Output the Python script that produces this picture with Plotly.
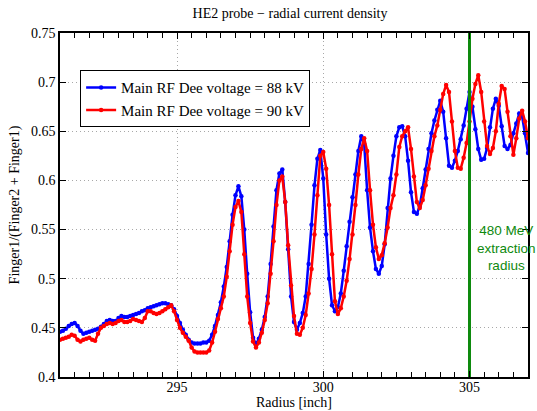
import plotly.graph_objects as go

radius = [round(291.0 + 0.1 * i, 1) for i in range(161)]

voltage_88kv = [
    0.446, 0.447, 0.449, 0.452, 0.454, 0.455, 0.452, 0.447, 0.444, 0.445,
    0.446, 0.447, 0.448, 0.449, 0.451, 0.454, 0.457, 0.458, 0.457, 0.457,
    0.460, 0.462, 0.461, 0.461, 0.462, 0.463, 0.464, 0.465, 0.467, 0.468,
    0.470, 0.471, 0.472, 0.473, 0.474, 0.475, 0.475, 0.474, 0.473, 0.469,
    0.462, 0.455, 0.448, 0.443, 0.438, 0.435, 0.434, 0.434, 0.434, 0.435,
    0.435, 0.437, 0.443, 0.452, 0.463, 0.476, 0.492, 0.512, 0.538, 0.565,
    0.585, 0.594, 0.584, 0.550, 0.505, 0.466, 0.440, 0.433, 0.439, 0.448,
    0.461, 0.482, 0.515, 0.553, 0.590, 0.607, 0.611, 0.578, 0.530, 0.482,
    0.456, 0.448, 0.455, 0.465, 0.482, 0.515, 0.555, 0.595, 0.622, 0.631,
    0.602, 0.545, 0.500, 0.473, 0.467, 0.471, 0.485, 0.508, 0.533, 0.558,
    0.583, 0.606, 0.630, 0.645, 0.637, 0.590, 0.552, 0.528, 0.510, 0.505,
    0.513, 0.535, 0.572, 0.602, 0.625, 0.645, 0.654, 0.655, 0.645, 0.620,
    0.588, 0.568, 0.566, 0.574, 0.592, 0.611, 0.632, 0.648, 0.661, 0.672,
    0.681, 0.670, 0.643, 0.615, 0.613, 0.620, 0.630, 0.642, 0.656, 0.673,
    0.690, 0.675, 0.652, 0.632, 0.621, 0.622, 0.633, 0.654, 0.673, 0.683,
    0.676, 0.655, 0.635, 0.632, 0.636, 0.648, 0.658, 0.668, 0.665, 0.648,
    0.628,
]

voltage_90kv = [
    0.438, 0.439, 0.440, 0.441, 0.443, 0.442, 0.438, 0.436, 0.438, 0.439,
    0.440, 0.438, 0.437, 0.444, 0.450, 0.452, 0.454, 0.455, 0.454, 0.455,
    0.457, 0.458, 0.456, 0.456, 0.457, 0.459, 0.458, 0.457, 0.456, 0.460,
    0.467, 0.467, 0.465, 0.464, 0.465, 0.467, 0.469, 0.471, 0.473, 0.467,
    0.458, 0.450, 0.445, 0.441, 0.437, 0.430, 0.426, 0.425, 0.425, 0.425,
    0.425, 0.427, 0.435, 0.446, 0.459, 0.470, 0.482, 0.502, 0.528, 0.555,
    0.573, 0.579, 0.568, 0.525, 0.482, 0.455, 0.436, 0.430, 0.435, 0.445,
    0.458, 0.475, 0.505, 0.538, 0.575, 0.600, 0.604, 0.578, 0.534, 0.493,
    0.462, 0.444, 0.443, 0.450, 0.463, 0.485, 0.510, 0.545, 0.585, 0.625,
    0.629, 0.612, 0.575, 0.525, 0.477, 0.464, 0.470, 0.482, 0.498, 0.520,
    0.545, 0.575, 0.606, 0.632, 0.643, 0.630, 0.590, 0.555, 0.532, 0.520,
    0.524, 0.536, 0.552, 0.572, 0.585, 0.606, 0.634, 0.645, 0.650, 0.654,
    0.632, 0.604, 0.578, 0.572, 0.580, 0.595, 0.612, 0.630, 0.645, 0.656,
    0.672, 0.688, 0.697, 0.690, 0.660, 0.630, 0.613, 0.612, 0.623, 0.638,
    0.660, 0.683, 0.698, 0.707, 0.690, 0.660, 0.635, 0.627, 0.633, 0.650,
    0.678, 0.696, 0.693, 0.670, 0.645, 0.626, 0.643, 0.663, 0.671, 0.660,
    0.643,
]

series_names = ["Main RF Dee voltage = 88 kV", "Main RF Dee voltage = 90 kV"]
series_colors = ["#0000ff", "#ff0000"]
extraction_radius = 305
y_limits = [0.4, 0.75]
x_limits = [291, 307]
x_tick_vals = [295, 300, 305]
y_tick_vals = [0.4, 0.45, 0.5, 0.55, 0.6, 0.65, 0.7, 0.75]
y_tick_text = ["0.4", "0.45", "0.5", "0.55", "0.6", "0.65", "0.7", "0.75"]

serif = "Liberation Serif, Times New Roman, serif"
sans = "Liberation Sans, Arial, sans-serif"

fig = go.Figure()
for vals, name, col in zip([voltage_88kv, voltage_90kv], series_names, series_colors):
    fig.add_trace(go.Scatter(
        x=radius, y=vals, mode="lines+markers", name=name,
        line=dict(color=col, width=2.5),
        marker=dict(color=col, size=4.5, symbol="circle"),
    ))

fig.add_trace(go.Scatter(
    x=[extraction_radius, extraction_radius], y=y_limits, mode="lines",
    line=dict(color="#0e8a0e", width=3), showlegend=False, hoverinfo="skip",
))

fig.add_annotation(
    x=306.25, y=0.531, xref="x", yref="y",
    text="480 MeV<br>extraction<br>radius", showarrow=False,
    font=dict(family=sans, size=13.5, color="#0e8a0e"),
    align="center", xanchor="center", yanchor="middle",
)

fig.add_annotation(
    x=0.5, y=-26 / 344, xref="paper", yref="paper",
    text="Radius [inch]", showarrow=False,
    font=dict(family=serif, size=14, color="black"),
    xanchor="center", yanchor="middle",
)

axis_common = dict(
    showline=True, linecolor="black", linewidth=1.5, mirror="allticks",
    ticks="inside", tickcolor="black", tickwidth=1.2,
    showgrid=True, gridcolor="#a8a8a8", griddash="1px,3px", gridwidth=1,
    zeroline=False, tickfont=dict(family=serif, size=14, color="black"),
    automargin=False, layer="above traces",
)

fig.update_layout(
    width=537, height=411,
    margin=dict(l=60, r=9, t=33, b=34),
    paper_bgcolor="white", plot_bgcolor="white",
    title=dict(text="HE2 probe \u2212 radial current density", x=0.54, xanchor="center",
               y=1 - 13 / 411, yanchor="middle", yref="container",
               font=dict(family=serif, size=14, color="black")),
    xaxis=dict(range=x_limits, tickvals=x_tick_vals, ticklen=6,
               minor=dict(dtick=0.5, tick0=291, ticks="inside", ticklen=5, tickcolor="black",
                          tickwidth=1.2, showgrid=False),
               ticklabelstandoff=-4,
               **axis_common),
    yaxis=dict(range=y_limits, tickvals=y_tick_vals, ticktext=y_tick_text, ticklen=6,
               title=dict(text="Finger1/(Finger2 + Finger1)",
                          font=dict(family=serif, size=14, color="black"), standoff=8),
               **axis_common),
    legend=dict(x=0.043, y=0.892, xanchor="left", yanchor="top",
                bordercolor="black", borderwidth=1, bgcolor="white",
                font=dict(family=serif, size=15, color="black"),
                tracegroupgap=0, itemwidth=30),
    showlegend=True,
)

fig.write_html("out.html", config={"displayModeBar": False},
               post_script="document.body.style.margin='0';document.body.style.overflow='hidden';")
